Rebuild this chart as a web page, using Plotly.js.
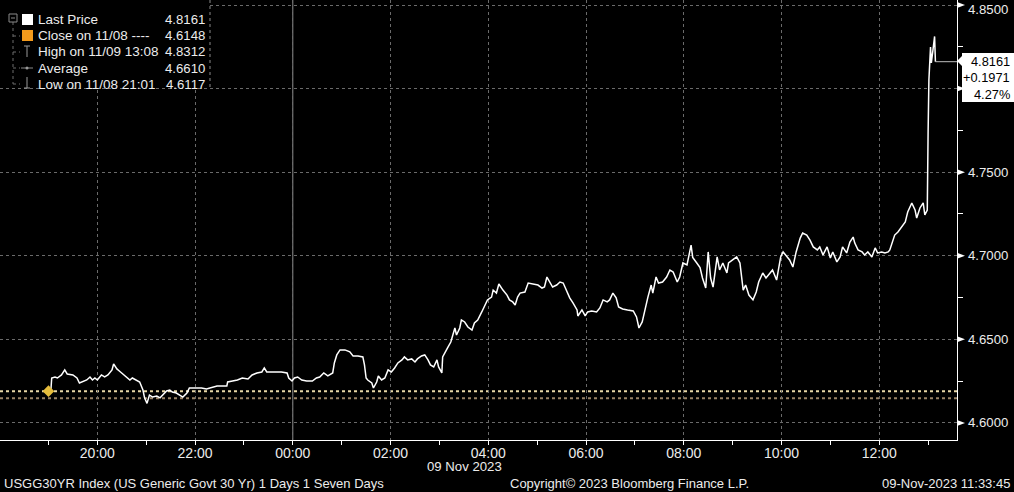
<!DOCTYPE html>
<html><head><meta charset="utf-8">
<script src="https://cdn.plot.ly/plotly-3.0.1.min.js"></script>
<style>html,body{margin:0;padding:0;background:#000;overflow:hidden}#chart{width:1014px;height:492px}</style>
</head><body><div id="chart"></div>
<script>
// ---- data ----
const timeNov8 = ['19:00','19:03','19:04','19:08','19:11','19:16','19:20','19:23','19:30','19:35','19:38','19:42','19:47','19:51','19:54','19:57',
 '20:00','20:05','20:09','20:13','20:18','20:20','20:24','20:27','20:31','20:36','20:40','20:43','20:48','20:52','20:56','20:58',
 '21:01','21:04','21:08','21:13','21:17','21:20','21:25','21:29','21:32','21:37','21:41','21:45','21:50','21:53','21:57',
 '22:02','22:08','22:14','22:24','22:27','22:39','22:40','22:46','22:52','22:58',
 '23:05','23:10','23:16','23:22','23:25','23:28','23:35','23:46','23:53','23:55','23:59'];
const yieldNov8 = [4.6190,4.6197,4.6269,4.6275,4.6269,4.6287,4.6317,4.6293,4.6287,4.6269,4.6239,4.6245,4.6257,4.6275,4.6257,4.6269,
 4.6257,4.6287,4.6275,4.6287,4.6317,4.6353,4.6323,4.6311,4.6293,4.6275,4.6257,4.6269,4.6257,4.6245,4.6197,4.6150,
 4.6117,4.6167,4.6155,4.6161,4.6150,4.6167,4.6191,4.6197,4.6185,4.6179,4.6167,4.6155,4.6179,4.6209,4.6209,
 4.6209,4.6209,4.6203,4.6215,4.6221,4.6221,4.6245,4.6251,4.6257,4.6269,
 4.6263,4.6287,4.6299,4.6305,4.6329,4.6305,4.6305,4.6305,4.6299,4.6269,4.6251];
const timeNov9 = ['00:02','00:06','00:11','00:17','00:24','00:29','00:33','00:38','00:43','00:49','00:51','00:54','00:58',
 '01:04','01:10','01:14','01:20','01:26','01:28','01:30','01:32','01:37','01:39','01:43','01:45','01:49','01:53','01:57',
 '02:01','02:05','02:09','02:14','02:17','02:21','02:26','02:30','02:33','02:38','02:42','02:46','02:49','02:53','02:57','02:59',
 '03:03','03:04','03:08','03:10','03:14','03:16','03:19','03:21','03:25','03:27','03:31','03:35','03:40','03:43','03:47','03:52','03:56','03:59',
 '04:04','04:06','04:10','04:13','04:18','04:23','04:26','04:30','04:33','04:36','04:39','04:45','04:49','04:55',
 '05:01','05:06','05:09','05:12','05:16','05:19','05:24','05:28','05:32','05:36','05:40','05:44','05:49','05:50','05:55','05:59',
 '06:02','06:07','06:13','06:17','06:21','06:26','06:29','06:33','06:37','06:40','06:45','06:51','06:58',
 '07:02','07:05','07:09','07:12','07:16','07:20','07:22','07:26','07:29','07:34','07:39','07:43','07:47','07:52','07:55','07:59',
 '08:04','08:09','08:11','08:16','08:20','08:23','08:27','08:30','08:33','08:36','08:41','08:44','08:48','08:53','08:55',
 '09:00','09:05','09:09','09:13','09:16','09:20','09:25','09:29','09:32','09:37','09:41','09:46','09:49','09:54','09:59',
 '10:02','10:07','10:10','10:14','10:18','10:23','10:26','10:31','10:35','10:39','10:44','10:47','10:51','10:56',
 '11:00','11:03','11:08','11:12','11:15','11:20','11:24','11:28','11:30','11:34','11:39','11:42','11:46','11:51','11:55','11:58',
 '12:03','12:07','12:11','12:13','12:17','12:19','12:23','12:28','12:32','12:35','12:40','12:44','12:46','12:50','12:54','12:56','12:59',
 '13:00','13:01','13:03','13:04','13:06','13:08','13:09'];
const yieldNov9 = [4.6269,4.6275,4.6257,4.6251,4.6251,4.6269,4.6275,4.6299,4.6281,4.6299,4.6359,4.6407,4.6437,
 4.6437,4.6425,4.6401,4.6401,4.6395,4.6347,4.6269,4.6257,4.6239,4.6209,4.6245,4.6281,4.6257,4.6269,4.6317,
 4.6305,4.6329,4.6359,4.6377,4.6395,4.6377,4.6383,4.6365,4.6383,4.6401,4.6407,4.6377,4.6347,4.6335,4.6377,4.6335,
 4.6299,4.6395,4.6437,4.6449,4.6484,4.6514,4.6568,4.6526,4.6568,4.6616,4.6604,4.6574,4.6556,4.6598,4.6616,4.6664,4.6706,4.6736,
 4.6753,4.6795,4.6777,4.6831,4.6795,4.6765,4.6736,4.6724,4.6706,4.6753,4.6777,4.6783,4.6837,4.6831,
 4.6825,4.6807,4.6813,4.6873,4.6837,4.6813,4.6825,4.6843,4.6837,4.6795,4.6748,4.6718,4.6676,4.6640,4.6676,4.6640,
 4.6664,4.6670,4.6664,4.6688,4.6736,4.6724,4.6736,4.6777,4.6748,4.6694,4.6682,4.6676,4.6670,
 4.6634,4.6568,4.6604,4.6676,4.6753,4.6825,4.6777,4.6873,4.6837,4.6843,4.6873,4.6915,4.6903,4.6843,4.6873,4.6957,
 4.6945,4.7064,4.6990,4.6957,4.6930,4.6867,4.6807,4.7023,4.6867,4.6813,4.6993,4.6915,4.6957,4.6897,4.6957,
 4.6975,4.6993,4.6957,4.6795,4.6825,4.6765,4.6736,4.6783,4.6843,4.6897,4.6867,4.6897,4.6915,4.6855,4.6993,
 4.7023,4.6993,4.6975,4.6933,4.7023,4.7106,4.7136,4.7124,4.7094,4.7053,4.7035,4.7053,4.7005,4.7053,
 4.6987,4.7023,4.6963,4.6993,4.7053,4.7017,4.7082,4.7112,4.7076,4.7035,4.7023,4.7005,4.7023,4.6993,4.7047,4.7017,
 4.7023,4.7017,4.7023,4.7035,4.7094,4.7124,4.7142,4.7172,4.7202,4.7262,4.7316,4.7274,4.7226,4.7286,4.7316,4.7244,4.7274,
 4.7734,4.8051,4.8248,4.8153,4.8231,4.8312,4.8161];
const priorLevel = 4.6190;
const closeLevel = 4.6148;
const legendLabels = ['Last Price', 'Close on 11/08 ----', 'High on 11/09 13:08', 'Average', 'Low on 11/08 21:01'];
const legendValues = ['4.8161', '4.6148', '4.8312', '4.6610', '4.6117'];
const lastBoxLines = ['4.8161', '+0.1971', '4.27%'];
const yTickVals = [4.60, 4.65, 4.70, 4.75, 4.80, 4.85];
const yTickText = ['4.6000', '4.6500', '4.7000', '4.7500', '', '4.8500'];  // 4.8000 sits under the last-price box
const xTickVals = ['2023-11-08 20:00','2023-11-08 22:00','2023-11-09 00:00','2023-11-09 02:00','2023-11-09 04:00',
                   '2023-11-09 06:00','2023-11-09 08:00','2023-11-09 10:00','2023-11-09 12:00'];
const xTickText = ['20:00','22:00','00:00','02:00','04:00','06:00','08:00','10:00','12:00'];
const xRange = ['2023-11-08 18:00:30', '2023-11-09 13:35:30'];
const yRange = [4.5898, 4.8530];
const dateLabel = '09 Nov 2023';
const footerLeft = 'USGG30YR Index (US Generic Govt 30 Yr) 1 Days 1 Seven Days';
const footerMid = 'Copyright\u00A9 2023 Bloomberg Finance L.P.';
const footerRight = '09-Nov-2023 11:33:45';

// ---- build ----
const times = timeNov8.map(t => '2023-11-08 ' + t).concat(timeNov9.map(t => '2023-11-09 ' + t));
const yields = yieldNov8.concat(yieldNov9);
const lastTime = times[times.length - 1];
const lastVal = yields[yields.length - 1];

const PW = 957, PH = 440;
const px = x => x / PW;
const py = y => 1 - y / PH;
const FONT = 'Liberation Sans, Arial, sans-serif';
const GRID = '#6a6a6a';

const traces = [
  {x: times, y: yields, type: 'scatter', mode: 'lines', line: {color: '#ffffff', width: 1.5}, hoverinfo: 'skip'},
  {x: [times[0]], y: [yields[0]], type: 'scatter', mode: 'markers',
   marker: {symbol: 'diamond', size: 9, color: '#e6bd3c'}, hoverinfo: 'skip'}
];

const shapes = [];
const pl = (x0, y0, x1, y1, color, dash, width) => shapes.push({type: 'line', xref: 'paper', yref: 'paper',
  x0: px(x0), y0: py(y0), x1: px(x1), y1: py(y1), line: {color: color, width: width || 1, dash: dash || 'solid'}, layer: 'above'});

// day separator
shapes.push({type: 'line', xref: 'x', yref: 'paper', x0: xTickVals[2], x1: xTickVals[2], y0: 0, y1: 1,
  line: {color: '#8c8c8c', width: 1}, layer: 'below'});
// reference levels
shapes.push({type: 'line', xref: 'paper', yref: 'y', x0: 0, x1: 1, y0: priorLevel, y1: priorLevel,
  line: {color: '#e8d7a6', width: 2, dash: 'dot'}, layer: 'below'});
shapes.push({type: 'line', xref: 'paper', yref: 'y', x0: 0, x1: 1, y0: closeLevel, y1: closeLevel,
  line: {color: '#9b8467', width: 2, dash: 'dot'}, layer: 'below'});
// last price connector
shapes.push({type: 'line', xref: 'x', yref: 'y', x0: lastTime, x1: xRange[1], y0: lastVal, y1: lastVal,
  line: {color: '#bdbdbd', width: 1}});
// tick triangles on right axis
const triH = 3 / 1672;
yTickVals.forEach(v => shapes.push({type: 'path', xref: 'paper', yref: 'y',
  path: `M 1 ${v - triH} L ${1 + px(8)} ${v} L 1 ${v + triH} Z`, fillcolor: '#fff', line: {width: 0}}));
// last price box + pointer
shapes.push({type: 'path', xref: 'paper', yref: 'paper',
  path: `M ${1} ${py(61)} L ${px(963)} ${py(55)} L ${px(963)} ${py(67)} Z`, fillcolor: '#fff', line: {width: 0}});
shapes.push({type: 'rect', xref: 'paper', yref: 'paper', x0: px(962), x1: px(1016), y0: py(102), y1: py(53),
  fillcolor: '#fff', line: {width: 0}});
// legend box
shapes.push({type: 'rect', xref: 'paper', yref: 'paper', x0: -0.01, x1: px(210), y0: py(87), y1: 1.01,
  fillcolor: '#000', line: {width: 0}, layer: 'above'});
pl(210, 0, 210, 87, '#8a8a8a', 'dot');
// legend tree
pl(13, 22, 13, 84, '#6d6d6d', 'dot');
[36, 52, 68, 84].forEach(r => pl(13, r, 20, r, '#6d6d6d', 'dot'));
shapes.push({type: 'rect', xref: 'paper', yref: 'paper', x0: px(9), x1: px(17), y0: py(22), y1: py(14),
  fillcolor: '#000', line: {color: '#8a8a8a', width: 1}, layer: 'above'});
pl(11, 18, 15, 18, '#8a8a8a');
shapes.push({type: 'rect', xref: 'paper', yref: 'paper', x0: px(22), x1: px(33), y0: py(25), y1: py(14),
  fillcolor: '#ffffff', line: {width: 0}, layer: 'above'});
shapes.push({type: 'rect', xref: 'paper', yref: 'paper', x0: px(22), x1: px(33), y0: py(41), y1: py(30),
  fillcolor: '#f39a1c', line: {width: 0}, layer: 'above'});
pl(27, 46, 27, 57, '#9a9a9a'); pl(24, 46, 30, 46, '#9a9a9a');
pl(21, 68, 33, 68, '#8a8a8a');
shapes.push({type: 'circle', xref: 'paper', yref: 'paper', x0: px(25.5), x1: px(28.5), y0: py(69.5), y1: py(66.5),
  fillcolor: '#9a9a9a', line: {width: 0}, layer: 'above'});
pl(27, 77, 27, 88, '#9a9a9a'); pl(24, 88, 30, 88, '#9a9a9a');

const annotations = [];
const ann = (text, x, y, xanchor, size, color) => annotations.push({text: text, xref: 'paper', yref: 'paper',
  x: px(x), y: py(y), xanchor: xanchor, yanchor: 'middle', showarrow: false,
  font: {family: FONT, size: size || 13, color: color || '#ffffff'}});
const rows = [20, 36, 52, 68, 84];
legendLabels.forEach((t, i) => ann(t, 36, rows[i], 'left', 13.5, '#ececec'));
legendValues.forEach((t, i) => ann(t, 207, rows[i], 'right', 13.2, '#ececec'));
const boxRows = [62, 78, 94];
lastBoxLines.forEach((t, i) => ann(t, 1012, boxRows[i], 'right', 12.8, '#000000'));
// right-axis labels, kept inside the figure
yTickVals.forEach((v, i) => {
  if (!yTickText[i]) return;
  const pix = Math.max(10, (yRange[1] - v) / (yRange[1] - yRange[0]) * PH);
  ann(yTickText[i], 966, pix, 'left', 13.2, '#ececec');
});
ann(dateLabel, 504, 467, 'right', 13.2, '#ececec');
ann(footerLeft, 2, 483, 'left', 13, '#ececec');
ann(footerMid, 508, 483, 'left', 13, '#ececec');
ann(footerRight, 1012, 483, 'right', 13, '#ececec');

const layout = {
  width: 1014, height: 492,
  margin: {l: 0, r: 57, t: 0, b: 52, pad: 0},
  paper_bgcolor: '#000', plot_bgcolor: '#000',
  showlegend: false,
  font: {family: FONT, size: 13, color: '#ececec'},
  xaxis: {
    type: 'date', range: xRange, automargin: false,
    tickmode: 'array', tickvals: xTickVals, ticktext: xTickText,
    ticks: '', showgrid: true, gridcolor: GRID, griddash: 'dot', gridwidth: 1,
    showline: true, linecolor: '#ffffff', linewidth: 1, zeroline: false,
    ticklabelstandoff: 0,
    tickfont: {family: FONT, size: 14, color: '#ececec'},
    minor: {tickmode: 'linear', tick0: '2023-11-08 19:00', dtick: 3600000, ticks: 'outside', ticklen: 4,
            tickcolor: '#ffffff', tickwidth: 1, showgrid: false}
  },
  yaxis: {
    side: 'right', range: yRange, automargin: false, showticklabels: false,
    tickmode: 'array', tickvals: yTickVals,
    ticks: '', showgrid: true, gridcolor: GRID, griddash: 'dot', gridwidth: 1,
    showline: true, linecolor: '#ffffff', linewidth: 1, zeroline: false,
    minor: {tickmode: 'linear', tick0: 4.625, dtick: 0.05, ticks: 'outside', ticklen: 5,
            tickcolor: '#ffffff', tickwidth: 1, showgrid: false}
  },
  shapes: shapes,
  annotations: annotations
};

Plotly.newPlot('chart', traces, layout, {staticPlot: true, displayModeBar: false});
</script>
</body></html>
